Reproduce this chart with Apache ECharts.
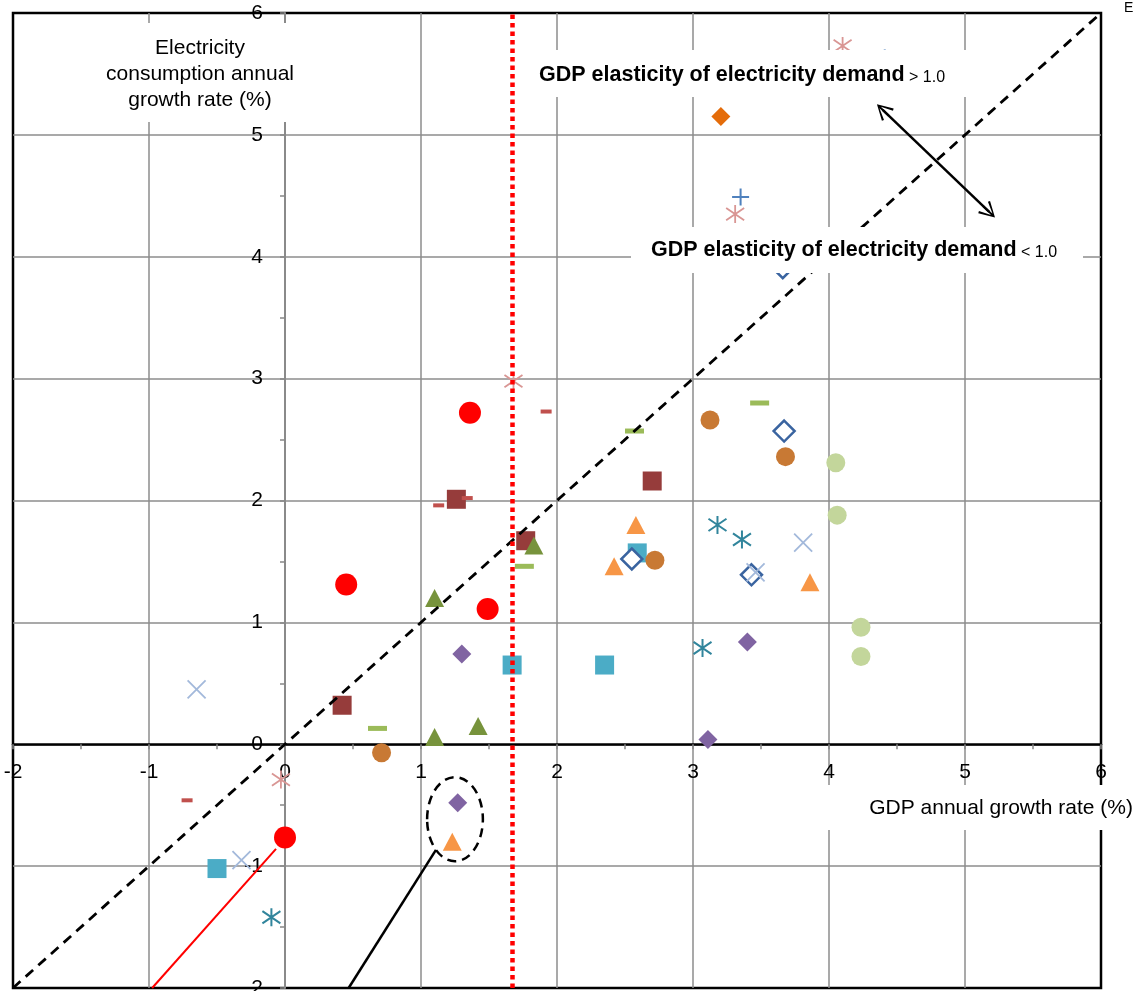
<!DOCTYPE html>
<html>
<head>
<meta charset="utf-8">
<script src="https://cdn.jsdelivr.net/npm/echarts@6.0.0/dist/echarts.min.js"></script>
<style>
html, body { margin: 0; padding: 0; background: #fff; }
#main { width: 1134px; height: 991px; }
</style>
</head>
<body>
<div id="main"></div>
<script>
// x = GDP annual growth rate (%), y = electricity consumption annual growth rate (%)
var redCircles       = [[1.36, 2.72], [0.45, 1.31], [1.49, 1.11], [0.00, -0.765]];
var darkRedSquares   = [[1.26, 2.01], [1.77, 1.67], [2.70, 2.16], [0.42, 0.32]];
var redDashes        = [[1.92, 2.73], [1.13, 1.96], [1.34, 2.02], [-0.72, -0.46]];
var greenDashes      = [[2.57, 2.57], [3.49, 2.80], [1.76, 1.46], [0.68, 0.13]];
var oliveTriangles   = [[1.10, 1.20], [1.83, 1.63], [1.10, 0.06], [1.42, 0.15]];
var orangeTriangles  = [[2.58, 1.80], [2.42, 1.46], [3.86, 1.33], [1.23, -0.80]];
var tealSquares      = [[1.67, 0.65], [2.35, 0.65], [2.59, 1.57], [-0.50, -1.02]];
var brownCircles     = [[3.125, 2.66], [3.68, 2.36], [2.72, 1.51], [0.71, -0.07]];
var blueOpenDiamonds = [[3.67, 2.57], [2.55, 1.52], [3.43, 1.39], [3.66, 3.91]];
var purpleDiamonds   = [[1.30, 0.74], [3.40, 0.84], [3.11, 0.04], [1.27, -0.48]];
var tealStars        = [[3.18, 1.80], [3.36, 1.68], [3.07, 0.79], [-0.10, -1.42]];
var pinkStars        = [[1.68, 2.98], [3.31, 4.35], [4.10, 5.73], [-0.03, -0.29]];
var bluePlus         = [[3.35, 4.49], [4.41, 5.63]];
var paleBlueCrosses  = [[-0.65, 0.45], [3.81, 1.655], [3.46, 1.41], [-0.32, -0.95]];
var paleGreenCircles = [[4.05, 2.31], [4.06, 1.88], [4.235, 0.96], [4.235, 0.72]];
var orangeDiamond    = [[3.205, 5.15]];

// reference lines / annotations (data coordinates)
var diagonal     = [[-2, -2], [6, 6]];          // elasticity = 1
var gdpThreshold = 1.67;                        // red dotted vertical
var arrowEnds    = [[4.395, 5.205], [5.178, 4.368]];
var redLeader    = [[-0.977, -2], [-0.066, -0.858]];
var blackLeader  = [[0.468, -2], [1.11, -0.866]];
var ellipseMark  = [[1.25, -0.615, 0.205, 0.345]]; // cx, cy, rx, ry

var FONT = '"Liberation Sans", Arial, sans-serif';
var STAR = 'path://M5 0L5 10M0.6 1.6L9.4 8.4M9.4 1.6L0.6 8.4';
var PLUS = 'path://M0 5L10 5M5 0L5 10';
var CROSS = 'path://M0 0L10 10M10 0L0 10';
var CHEVRON = 'path://M8.5 0L17 15L15 16L9.5 4.5L9.5 16L7.5 16L7.5 4.5L2 16L0 15Z';

// plot area: x from -2..6 over 1088px, y from -2..6 over 975px
var GRID = { left: 13, top: 13, width: 1088, height: 975 };

function scatter(data, symbol, size, style) {
  return {
    type: 'scatter', data: data, symbol: symbol, symbolSize: size,
    itemStyle: Object.assign({ opacity: 1 }, style), z: 2, silent: true
  };
}

var myChart = echarts.init(document.getElementById('main'));

var axisCommon = {
  type: 'value', min: -2, max: 6, interval: 1,
  axisLabel: { fontSize: 21, color: '#000', fontFamily: FONT, showMinLabel: true, showMaxLabel: true },
  axisTick: { show: true, length: 5, lineStyle: { color: '#888', width: 1.5 } },
  minorTick: { show: true, splitNumber: 2, length: 5, lineStyle: { color: '#888', width: 1.5 } },
  splitLine: { show: true, showMinLine: false, showMaxLine: false, lineStyle: { color: '#8c8c8c', width: 1.5 } }
};

var option = {
  animation: false,
  backgroundColor: '#fff',
  grid: {
    left: GRID.left, top: GRID.top, width: GRID.width, height: GRID.height,
    containLabel: false, outerBoundsMode: 'none',
    show: true, borderColor: '#000', borderWidth: 2.5, backgroundColor: 'transparent'
  },
  xAxis: Object.assign({}, axisCommon, {
    position: 'bottom',
    // move the whole axis (line, ticks, labels) up to y = 0
    offset: -GRID.height * 2 / 8,
    axisLine: { onZero: false, lineStyle: { color: '#000', width: 2.5 } },
    axisLabel: Object.assign({}, axisCommon.axisLabel, { margin: 17 })
  }),
  yAxis: Object.assign({}, axisCommon, {
    position: 'left',
    // move the whole axis right to x = 0
    offset: -GRID.width * 2 / 8,
    axisLine: { onZero: false, lineStyle: { color: '#8a8a8a', width: 2 } },
    axisLabel: Object.assign({}, axisCommon.axisLabel, { margin: 22 })
  }),
  series: [
    {
      type: 'line', data: [], z: 1, silent: true,
      markLine: {
        silent: true, symbol: ['none', 'none'], label: { show: false },
        lineStyle: { color: '#000', width: 2.8, type: [10, 7] },
        data: [[{ coord: diagonal[0] }, { coord: diagonal[1] }]]
      }
    },
    scatter(redCircles, 'circle', 22, { color: '#FF0000' }),
    scatter(darkRedSquares, 'rect', 19, { color: '#963C3B' }),
    scatter(redDashes, 'rect', [11, 4], { color: '#C0504D' }),
    scatter(greenDashes, 'rect', [19, 5], { color: '#9BBB59' }),
    scatter(oliveTriangles, 'triangle', [19, 18], { color: '#77933C' }),
    scatter(orangeTriangles, 'triangle', [19, 18], { color: '#F79646' }),
    scatter(tealSquares, 'rect', 19, { color: '#4BACC6' }),
    scatter(brownCircles, 'circle', 19, { color: '#C87934' }),
    scatter(blueOpenDiamonds, 'diamond', 21, { color: '#fff', borderColor: '#3A64A0', borderWidth: 2.5 }),
    scatter(purpleDiamonds, 'diamond', 19, { color: '#8064A2' }),
    scatter(tealStars, STAR, 18, { color: 'transparent', borderColor: '#31859C', borderWidth: 2 }),
    scatter(pinkStars, STAR, 18, { color: 'transparent', borderColor: '#D99694', borderWidth: 1.8 }),
    scatter(bluePlus, PLUS, 17, { color: 'transparent', borderColor: '#4F81BD', borderWidth: 2 }),
    scatter(paleBlueCrosses, CROSS, 18, { color: 'transparent', borderColor: '#A3B9DB', borderWidth: 1.8 }),
    scatter(paleGreenCircles, 'circle', 19, { color: '#C3D69B' }),
    scatter(orangeDiamond, 'diamond', 19, { color: '#E46C0A' }),
    {
      type: 'line', data: [], z: 3, silent: true,
      markLine: {
        silent: true, symbol: ['none', 'none'], label: { show: false },
        data: [
          { xAxis: gdpThreshold, lineStyle: { color: '#FF0000', width: 4.5, type: [4.5, 4] } },
          [{ coord: redLeader[0], lineStyle: { color: '#FF0000', width: 2, type: 'solid' } }, { coord: redLeader[1] }],
          [{ coord: blackLeader[0], lineStyle: { color: '#000', width: 2.5, type: 'solid' } }, { coord: blackLeader[1] }]
        ]
      }
    },
    {
      type: 'line', data: [], z: 3, silent: true,
      markLine: {
        silent: true, symbol: [CHEVRON, CHEVRON], symbolSize: [17, 16], label: { show: false },
        lineStyle: { color: '#000', width: 2.5, type: 'solid' },
        data: [[{ coord: arrowEnds[0] }, { coord: arrowEnds[1] }]]
      }
    },
    {
      type: 'custom', data: ellipseMark, z: 3, silent: true,
      encode: { x: 0, y: 1 },
      renderItem: function (params, api) {
        var c = api.coord([api.value(0), api.value(1)]);
        var s = api.size([api.value(2), api.value(3)]);
        return {
          type: 'ellipse',
          shape: { cx: c[0], cy: c[1], rx: s[0], ry: s[1] },
          style: { fill: 'none', stroke: '#000', lineWidth: 2.5, lineDash: [9, 6] }
        };
      }
    }
  ],
  graphic: [
    { type: 'rect', z: 100, left: 95, top: 23, shape: { width: 210, height: 99 }, style: { fill: '#fff' } },
    { type: 'text', z: 101, x: 200, y: 74,
      style: { text: 'Electricity\nconsumption annual\ngrowth rate (%)', fontSize: 21, fontFamily: FONT, fill: '#000',
               align: 'center', verticalAlign: 'middle', lineHeight: 26 } },
    { type: 'rect', z: 100, left: 527, top: 50, shape: { width: 443, height: 47 }, style: { fill: '#fff' } },
    { type: 'text', z: 101, x: 539, y: 75,
      style: { text: '{b|GDP elasticity of electricity demand}{n| > 1.0}', verticalAlign: 'middle', fill: '#000',
               rich: { b: { fontSize: 21.5, fontWeight: 'bold', fontFamily: FONT, fill: '#000' },
                       n: { fontSize: 16, fontFamily: FONT, fill: '#000', verticalAlign: 'bottom' } } } },
    { type: 'rect', z: 100, left: 631, top: 227, shape: { width: 452, height: 46 }, style: { fill: '#fff' } },
    { type: 'text', z: 101, x: 651, y: 250,
      style: { text: '{b|GDP elasticity of electricity demand}{n| < 1.0}', verticalAlign: 'middle', fill: '#000',
               rich: { b: { fontSize: 21.5, fontWeight: 'bold', fontFamily: FONT, fill: '#000' },
                       n: { fontSize: 16, fontFamily: FONT, fill: '#000', verticalAlign: 'bottom' } } } },
    { type: 'rect', z: 100, left: 820, top: 785, shape: { width: 314, height: 45 }, style: { fill: '#fff' } },
    { type: 'text', z: 101, x: 1133, y: 808,
      style: { text: 'GDP annual growth rate (%)', fontSize: 21, fontFamily: FONT, fill: '#000',
               align: 'right', verticalAlign: 'middle' } },
    { type: 'text', z: 101, x: 1124, y: 1,
      style: { text: 'E', fontSize: 14, fontFamily: FONT, fill: '#000', align: 'left', verticalAlign: 'top' } }
  ]
};

myChart.setOption(option);
</script>
</body>
</html>
